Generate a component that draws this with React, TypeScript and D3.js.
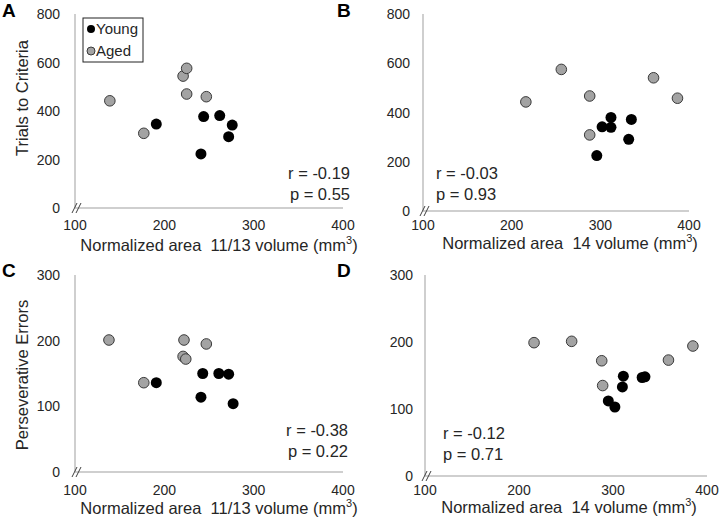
import React from "react";
import * as d3 from "d3";

const xTicks = [100, 200, 300, 400];
const yTicksTrials = [0, 200, 400, 600, 800];
const yTicksErrors = [0, 100, 200, 300];

const aYoungX = [191, 241, 244, 262, 272, 276];
const aYoungY = [346, 223, 377, 381, 294, 342];
const aAgedX = [139, 177, 221, 225, 225, 247];
const aAgedY = [442, 308, 544, 576, 470, 459];

const bYoungX = [296, 302, 312, 312, 332, 335];
const bYoungY = [225, 342, 380, 340, 291, 372];
const bAgedX = [216, 256, 288, 288, 360, 387];
const bAgedY = [443, 575, 467, 309, 541, 458];

const cYoungX = [191, 241, 243, 261, 272, 277];
const cYoungY = [136, 114, 150, 150, 149, 104];
const cAgedX = [138, 177, 222, 221, 224, 247];
const cAgedY = [201, 136, 201, 176, 172, 195];

const dYoungX = [295, 302, 310, 311, 331, 334];
const dYoungY = [112, 103, 133, 149, 147, 148];
const dAgedX = [216, 256, 288, 289, 359, 385];
const dAgedY = [199, 201, 172, 135, 173, 194];

const statsR = ["r = -0.19", "r = -0.03", "r = -0.38", "r = -0.12"];
const statsP = ["p = 0.55", "p = 0.93", "p = 0.22", "p = 0.71"];
const panelLetters = ["A", "B", "C", "D"];
const xTitles = ["Normalized area  11/13 volume (mm", "Normalized area  14 volume (mm"];
const yTitles = ["Trials to Criteria", "Perseverative Errors"];
const legendLabels = ["Young", "Aged"];

const FONT = "'Liberation Sans', Arial, sans-serif";
const AXIS = "#bfbfbf";
const TXT = "#262626";

type Panel = {
  letter: string; lx: number; ly: number;
  x0: number; x1: number; y0: number; y1: number; yMax: number; yTicks: number[];
  youngX: number[]; youngY: number[]; agedX: number[]; agedY: number[];
  yLabRight: number; xLabDy: number; titleX: number; titleY: number; xTitle: string;
  r: string; p: string; statX: number; statY: number; statAnchor: "start" | "end";
  yTitle?: string; yTitleY?: number; legend?: boolean;
};

const panels: Panel[] = [
  { letter: panelLetters[0], lx: 2, ly: 17, x0: 75, x1: 343, y0: 208, y1: 14, yMax: 800, yTicks: yTicksTrials,
    youngX: aYoungX, youngY: aYoungY, agedX: aAgedX, agedY: aAgedY, yLabRight: 60, xLabDy: 22,
    titleX: 219, titleY: 251, xTitle: xTitles[0], r: statsR[0], p: statsP[0], statX: 350, statY: 179, statAnchor: "end",
    yTitle: yTitles[0], yTitleY: 98, legend: true },
  { letter: panelLetters[1], lx: 337, ly: 17, x0: 423, x1: 689, y0: 211, y1: 14, yMax: 800, yTicks: yTicksTrials,
    youngX: bYoungX, youngY: bYoungY, agedX: bAgedX, agedY: bAgedY, yLabRight: 410, xLabDy: 19,
    titleX: 570, titleY: 249, xTitle: xTitles[1], r: statsR[1], p: statsP[1], statX: 436, statY: 179, statAnchor: "start" },
  { letter: panelLetters[2], lx: 2, ly: 277, x0: 75, x1: 343, y0: 472, y1: 275, yMax: 300, yTicks: yTicksErrors,
    youngX: cYoungX, youngY: cYoungY, agedX: cAgedX, agedY: cAgedY, yLabRight: 60, xLabDy: 23,
    titleX: 219, titleY: 514, xTitle: xTitles[0], r: statsR[2], p: statsP[2], statX: 348, statY: 436, statAnchor: "end",
    yTitle: yTitles[1], yTitleY: 375 },
  { letter: panelLetters[3], lx: 337, ly: 277, x0: 425, x1: 707, y0: 476, y1: 275, yMax: 300, yTicks: yTicksErrors,
    youngX: dYoungX, youngY: dYoungY, agedX: dAgedX, agedY: dAgedY, yLabRight: 413, xLabDy: 19,
    titleX: 569, titleY: 513, xTitle: xTitles[1], r: statsR[3], p: statsP[3], statX: 443, statY: 439, statAnchor: "start" },
];

function PanelView({ pn }: { pn: Panel }) {
  const x = d3.scaleLinear().domain([100, 400]).range([pn.x0, pn.x1]);
  const y = d3.scaleLinear().domain([0, pn.yMax]).range([pn.y0, pn.y1]);
  const young = d3.zip(pn.youngX, pn.youngY);
  const aged = d3.zip(pn.agedX, pn.agedY);
  const ox = x(100), oy = y(0);
  return (
    <g fontFamily={FONT}>
      <text x={pn.lx} y={pn.ly} fontSize={19} fontWeight="bold" fill="#000">{pn.letter}</text>
      <line x1={ox} x2={ox} y1={y(pn.yMax)} y2={oy} stroke={AXIS} strokeWidth={1.5} />
      <line x1={ox} x2={x(400)} y1={oy} y2={oy} stroke={AXIS} strokeWidth={1.5} />
      <line x1={ox - 3} y1={oy + 5} x2={ox + 2} y2={oy - 5} stroke="#404040" strokeWidth={1} />
      <line x1={ox + 1} y1={oy + 5} x2={ox + 6} y2={oy - 5} stroke="#404040" strokeWidth={1} />
      {pn.yTicks.map((t) => (
        <text key={"y" + t} x={pn.yLabRight} y={y(t) + 5} fontSize={14} textAnchor="end" fill={TXT}>{t}</text>
      ))}
      {xTicks.map((t) => (
        <text key={"x" + t} x={x(t)} y={oy + pn.xLabDy} fontSize={14} textAnchor="middle" fill={TXT}>{t}</text>
      ))}
      <text x={pn.titleX} y={pn.titleY} fontSize={16.5} textAnchor="middle" fill={TXT} xmlSpace="preserve">
        {pn.xTitle}<tspan fontSize={11} dy={-7}>3</tspan><tspan dy={7}>)</tspan>
      </text>
      {pn.yTitle && (
        <text transform={`translate(28,${pn.yTitleY}) rotate(-90)`} fontSize={16.5} textAnchor="middle" fill={TXT}>{pn.yTitle}</text>
      )}
      {aged.map(([a, b], i) => (
        <circle key={"a" + i} cx={x(a)} cy={y(b)} r={5.3} fill="#a3a3a3" stroke="#3a3a3a" strokeWidth={1} />
      ))}
      {young.map(([a, b], i) => (
        <circle key={"g" + i} cx={x(a)} cy={y(b)} r={5.5} fill="#000" />
      ))}
      <text x={pn.statX} y={pn.statY} fontSize={16.5} textAnchor={pn.statAnchor} fill={TXT}>{pn.r}</text>
      <text x={pn.statX} y={pn.statY + 21} fontSize={16.5} textAnchor={pn.statAnchor} fill={TXT}>{pn.p}</text>
      {pn.legend && (
        <g>
          <rect x={83} y={18} width={60} height={44} fill="#fff" stroke="#222" strokeWidth={1} />
          <circle cx={91} cy={29} r={4} fill="#000" />
          <text x={96} y={34} fontSize={15} fill={TXT}>{legendLabels[0]}</text>
          <circle cx={91} cy={51} r={4} fill="#a3a3a3" stroke="#3a3a3a" strokeWidth={1} />
          <text x={96} y={56} fontSize={15} fill={TXT}>{legendLabels[1]}</text>
        </g>
      )}
    </g>
  );
}

export default function App() {
  return (
    <svg width={720} height={519} style={{ position: "absolute", left: 0, top: 0, background: "#fff" }}>
      <rect width={720} height={519} fill="#fff" />
      {panels.map((pn) => <PanelView key={pn.letter} pn={pn} />)}
    </svg>
  );
}
